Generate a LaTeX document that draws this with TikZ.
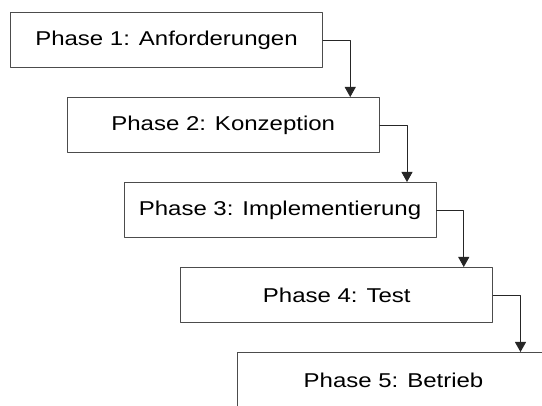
\documentclass[tikz,border=0pt]{standalone}
\usepackage{fontspec}
\setmainfont{Liberation Sans}
\usetikzlibrary{arrows.meta}
\newcommand\widetext[1]{\scalebox{1.2}[1]{#1}}

\begin{document}
\begin{tikzpicture}[x=1pt,y=-1pt,line cap=round,line join=round,
                    phasebox/.style={draw=black!70,line width=1pt,fill=white,
                        minimum width=312pt,minimum height=55pt,inner sep=0pt,
                        anchor=north west,font=\fontsize{20}{24}\selectfont},
                    flow/.style={draw=black!85,line width=0.9pt,
                        -{Triangle[length=10pt,width=11pt]}}]
    %% Fix the page and cut off what runs over it.
    \path[use as bounding box,clip] (0,0) rectangle (542,406);

    % The phases, each one step right and down of the one before.
    \foreach \i/\text in {%
        1/Phase 1: Anforderungen,
        2/Phase 2: Konzeption,
        3/Phase 3: Implementierung,
        4/Phase 4: Test,
        5/Phase 5: Betrieb} {
        \node[phasebox] (p\i) at ({10+56.75*(\i-1)},{12+85*(\i-1)}) {\widetext{\text}};
    }

    % Connect each phase to the next one.
    \foreach \i/\j in {1/2,2/3,3/4,4/5} {
        \draw[flow] (p\i.east) -| ([xshift=-29.5pt]p\j.north east);
    }
\end{tikzpicture}
\end{document}
